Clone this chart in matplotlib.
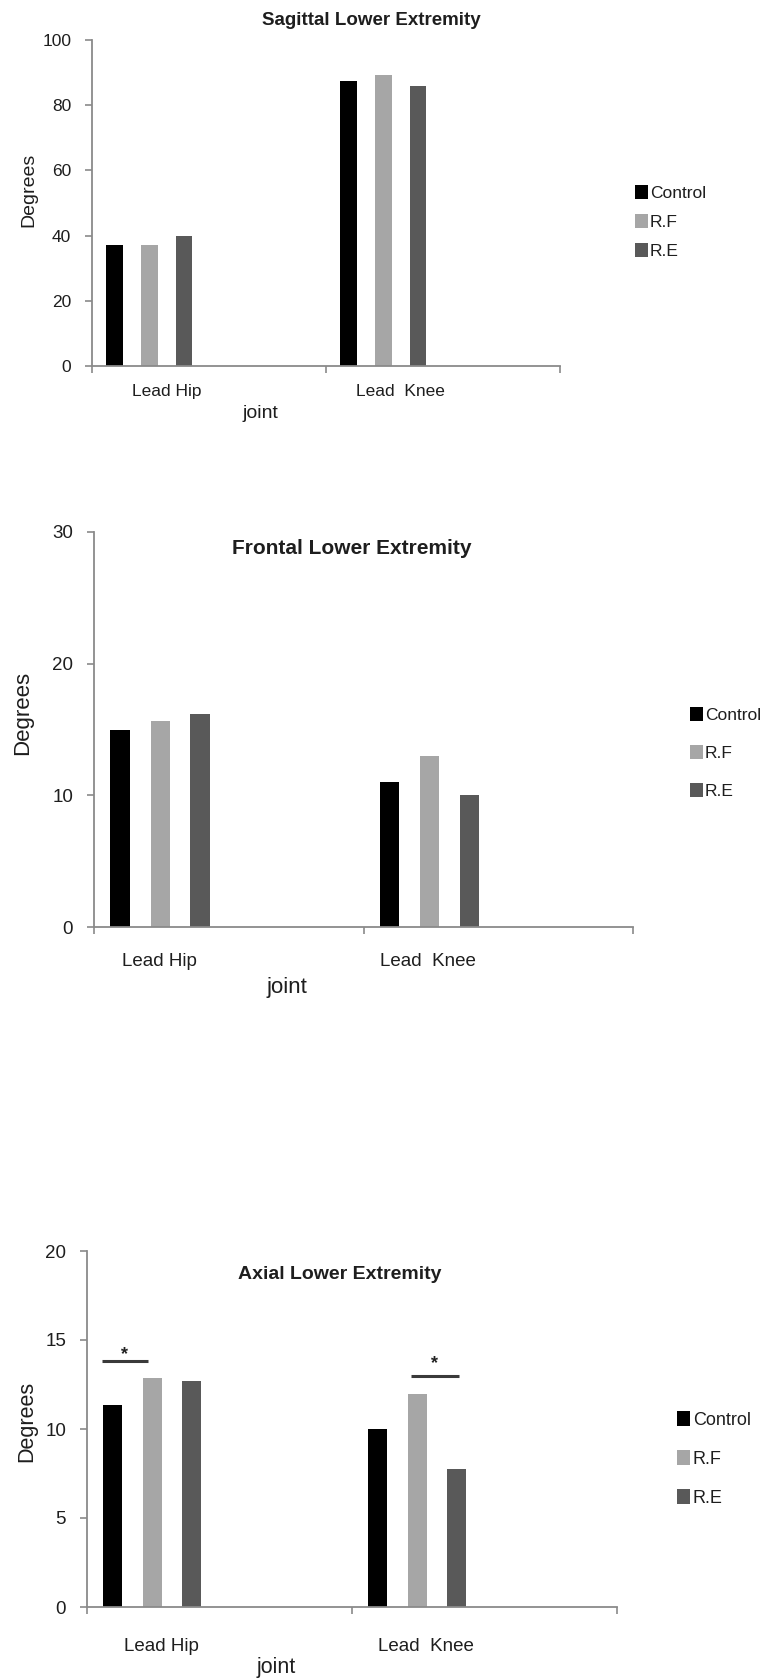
import matplotlib
matplotlib.use("Agg")
import matplotlib.pyplot as plt
import numpy as np

plt.rcParams['font.family'] = ['Liberation Sans', 'DejaVu Sans']

# ---------------- data ----------------
joints = ["Lead Hip", "Lead  Knee"]
series = ["Control", "R.F", "R.E"]

sagittal_control = [37.0, 87.5]
sagittal_rf = [37.2, 89.2]
sagittal_re = [39.9, 86.0]

frontal_control = [15.0, 11.05]
frontal_rf = [15.65, 12.95]
frontal_re = [16.2, 10.0]

axial_control = [11.35, 10.0]
axial_rf = [12.85, 11.95]
axial_re = [12.7, 7.75]

titles = ["Sagittal Lower Extremity", "Frontal Lower Extremity", "Axial Lower Extremity"]
y_ticks_list = [[0, 20, 40, 60, 80, 100], [0, 10, 20, 30], [0, 5, 10, 15, 20]]

# ---------------- style ----------------
W, H = 766, 1679
DPI = 100
colors = ["#000000", "#a6a6a6", "#595959"]
spine_col = "#8a8a8a"
text_col = "#1e1e1e"
offsets = [0.097, 0.246, 0.393]
bar_w = 0.072

fig = plt.figure(figsize=(W / DPI, H / DPI), dpi=DPI)

def px_axes(left, right, top, bottom):
    return fig.add_axes([left / W, 1 - bottom / H, (right - left) / W, (bottom - top) / H])

# per-chart layout (pixels)
layouts = [
    dict(box=(92, 560, 40, 366), lab_pos=[0.32, 1.316], lab_pad=13, fs=12.5, dfs=14,
         joint=(0.36, -0.145), deg=(-0.135, 0.54), title=(0.596, 1.061), tfs=13.5,
         leg=(635, 222), legsp=0.75, lfs=12.5),
    dict(box=(94, 633, 532, 927), lab_pos=[0.241, 1.239], lab_pad=19, fs=13.5, dfs=16,
         joint=(0.358, -0.152), deg=(-0.132, 0.542), title=(0.479, 0.957), tfs=15,
         leg=(690, 753), legsp=1.25, lfs=12.5),
    dict(box=(87, 617, 1251, 1607), lab_pos=[0.28, 1.28], lab_pad=22, fs=13.5, dfs=15.5,
         joint=(0.357, -0.169), deg=(-0.113, 0.52), title=(0.477, 0.935), tfs=14,
         leg=(677, 1459), legsp=1.2, lfs=13),
]

data_sets = [
    [sagittal_control, sagittal_rf, sagittal_re],
    [frontal_control, frontal_rf, frontal_re],
    [axial_control, axial_rf, axial_re],
]

axes = []
for k, (lay, data) in enumerate(zip(layouts, data_sets)):
    ax = px_axes(*lay["box"])
    axes.append(ax)
    x = np.arange(len(joints))
    handles = []
    for s, (vals, col, off) in enumerate(zip(data, colors, offsets)):
        b = ax.bar(x + off, vals, width=bar_w, color=col, edgecolor='none', label=series[s])
        handles.append(b)
    yt = y_ticks_list[k]
    ax.set_ylim(yt[0], yt[-1])
    ax.set_xlim(0, len(joints))
    ax.set_yticks(yt)
    ax.set_yticklabels([str(v) for v in yt], fontsize=lay["fs"], color=text_col)
    ax.set_xticks(np.arange(len(joints) + 1))
    ax.set_xticklabels([])
    ax.set_xticks(np.array(lay["lab_pos"]), joints, minor=True)
    ax.tick_params(axis='x', which='minor', length=0, pad=lay["lab_pad"],
                   labelsize=lay["fs"], labelcolor=text_col)
    ax.tick_params(axis='x', which='major', length=5, width=1.2, color=spine_col, direction='out')
    ax.tick_params(axis='y', length=5, width=1.2, color=spine_col, pad=10)
    for sp in ['top', 'right']:
        ax.spines[sp].set_visible(False)
    for sp in ['left', 'bottom']:
        ax.spines[sp].set_color(spine_col)
        ax.spines[sp].set_linewidth(1.3)
    ax.set_xlabel("joint", fontsize=lay["dfs"], color=text_col)
    ax.xaxis.set_label_coords(*lay["joint"])
    ax.xaxis.label.set_va('center')
    ax.set_ylabel("Degrees", fontsize=lay["dfs"], color=text_col)
    ax.yaxis.set_label_coords(*lay["deg"])
    ax.yaxis.label.set_va('center')
    ax.text(lay["title"][0], lay["title"][1], titles[k], transform=ax.transAxes,
            ha='center', va='center', fontsize=lay["tfs"], fontweight='bold', color=text_col)
    lx, ly = lay["leg"]
    fig.legend(handles=handles, labels=series, loc='center left',
               bbox_to_anchor=(lx / W, 1 - ly / H), bbox_transform=fig.transFigure,
               frameon=False, fontsize=lay["lfs"], handlelength=0.72, handleheight=0.85,
               handletextpad=0.15, labelspacing=lay["legsp"], borderpad=0, borderaxespad=0,
               labelcolor=text_col)

# significance markers on axial chart
ax3 = axes[2]
sig_lines = [((0.057, 0.23), 13.83, 0.143, 14.2), ((1.223, 1.404), 13.0, 1.313, 13.65)]
for (x0, x1), yl, xs, ys in sig_lines:
    ax3.plot([x0, x1], [yl, yl], color="#3a3a3a", lw=2.2, solid_capstyle='butt')
    ax3.text(xs, ys, "*", ha='center', va='center', fontsize=13, fontweight='bold', color="#222222")

fig.savefig("out.png", dpi=DPI)
